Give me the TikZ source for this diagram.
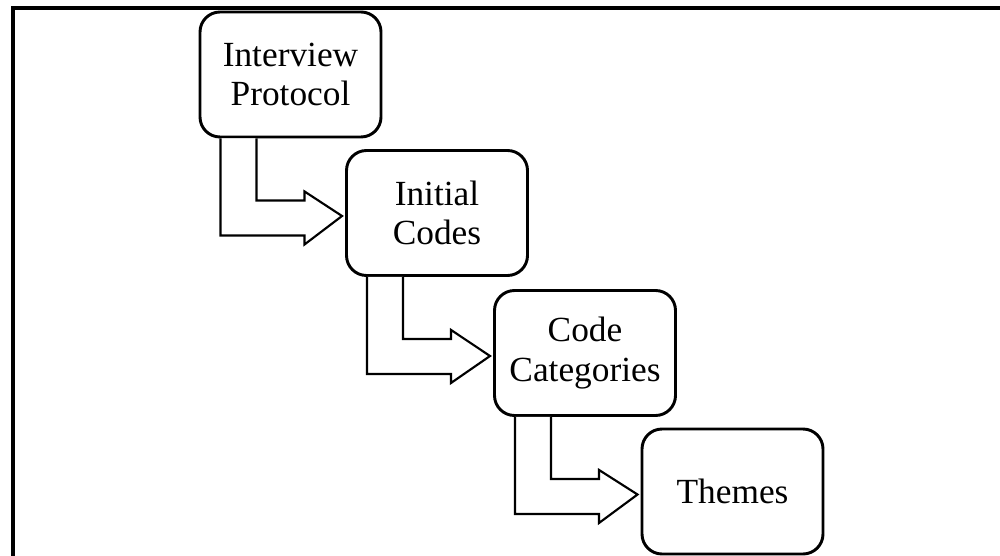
\documentclass[tikz,border=0pt]{standalone}
\usepackage{fontspec}
\setmainfont{Liberation Serif}
\usetikzlibrary{calc}
\tikzset{
  stage/.style={draw=black, line width=2.2pt, rounded corners=15pt, minimum width=181*0.75pt, minimum height=125*0.75pt, align=center, inner sep=0pt, font=\fontsize{26.5}{29.5}\selectfont},
  flow/.style={draw=black, line width=1.6pt, line join=miter, fill=white},
  frame/.style={draw=black, line width=3pt}
}
\begin{document}
\begin{tikzpicture}[x=0.75pt,y=-0.75pt]
\useasboundingbox (0,0) rectangle (1000,556);
\clip (0,0) rectangle (1000,556);
\draw[frame] (13,8) rectangle (1030,600);
\node[stage] (a) at (290.5,74.5) {Interview\\Protocol};
\node[stage] (b) at (437,213) {Initial\\Codes};
\node[stage] (c) at (585,353) {Code\\Categories};
\node[stage] (d) at (732.5,491.5) {Themes};
\foreach \s/\t in {a/b, b/c, c/d}{
  \coordinate (p) at (\s.south west);
  \draw[flow] ($(p)+(22,0)$) -- ($(p)+(22,97)$) -- ($(p)+(106,97)$) -- ($(p)+(106,106)$)
     -- ($(\t.west)+(-3,3)$) -- ($(p)+(106,53)$) -- ($(p)+(106,62)$) -- ($(p)+(58,62)$) -- ($(p)+(58,0)$);
}
\end{tikzpicture}
\end{document}
